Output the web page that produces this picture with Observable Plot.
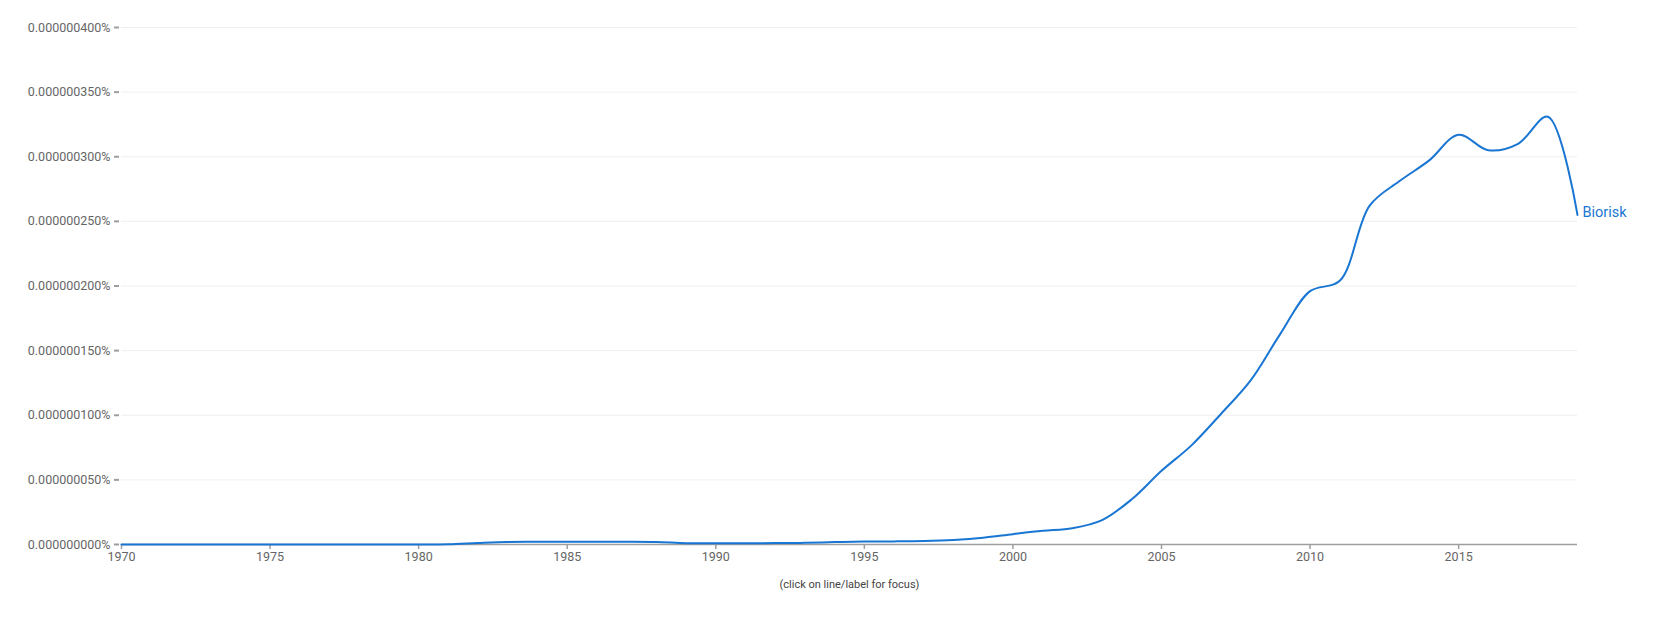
<!DOCTYPE html>
<html>
<head>
<meta charset="utf-8">
<script src="https://cdn.jsdelivr.net/npm/d3@7"></script>
<script src="https://cdn.jsdelivr.net/npm/@observablehq/plot@0.6"></script>
<style>
  html, body { margin: 0; padding: 0; background: #fff; }
  body { width: 1657px; height: 618px; overflow: hidden; font-family: Roboto, sans-serif; }
  #chart svg { display: block; }
  #caption { width: 1657px; height: 14px; line-height: 14px; font-size: 11px; color: #444;
             font-family: Roboto, sans-serif; position: relative; margin-top: 8px; }
  #caption span { position: absolute; left: 849.5px; transform: translateX(-50%); white-space: nowrap; }
</style>
</head>
<body>
<div id="chart"></div>
<div id="caption"><span>(click on line/label for focus)</span></div>
<script>
const seriesName = "Biorisk";
const years = d3.range(1970, 2020);
// values in percent
const biorisk = [
  0e-9, 0e-9, 0e-9, 0e-9, 0e-9, 0e-9, 0e-9, 0e-9, 0e-9, 0e-9,          // 1970-1979
  0e-9, 0.2e-9, 1.2e-9, 2.0e-9, 2.1e-9, 2.1e-9, 2.1e-9, 2.1e-9, 1.9e-9, 1.0e-9, // 1980-1989
  0.9e-9, 1.0e-9, 1.1e-9, 1.3e-9, 1.9e-9, 2.3e-9, 2.4e-9, 2.7e-9, 3.5e-9, 5.2e-9, // 1990-1999
  8.0e-9, 10.6e-9, 12.6e-9, 18.9e-9, 35e-9, 57e-9, 76.5e-9, 101e-9, 127e-9, 163e-9, // 2000-2009
  196e-9, 204e-9, 262e-9, 281e-9, 297e-9, 317e-9, 305e-9, 310e-9, 331e-9, 255e-9   // 2010-2019
];
const yTicks = [0, 50e-9, 100e-9, 150e-9, 200e-9, 250e-9, 300e-9, 350e-9, 400e-9];
const xTicks = [1970, 1975, 1980, 1985, 1990, 1995, 2000, 2005, 2010, 2015];

const data = years.map((y, i) => ({year: y, value: biorisk[i]}));
const last = data[data.length - 1];
const blue = "#1976d2";

const chart = Plot.plot({
  width: 1657,
  height: 570,
  marginTop: 27,
  marginBottom: 26,
  marginLeft: 121,
  marginRight: 80,
  style: {fontFamily: "Roboto, sans-serif", fontSize: "12.5px", background: "#fff"},
  x: {domain: [1970, 2019]},
  y: {domain: [0, 400e-9]},
  marks: [
    Plot.gridY(yTicks.slice(1), {stroke: "#efefef", strokeOpacity: 1, strokeWidth: 1}),
    Plot.axisY(yTicks, {
      tickSize: 5, tickPadding: 4, dx: -2,
      stroke: "#9e9e9e", strokeWidth: 2, fill: "#666",
      tickFormat: d => d.toFixed(9) + "%", label: null, fontSize: 12.5
    }),
    Plot.axisX(xTicks, {
      tickSize: 5, tickPadding: 3,
      stroke: "#9e9e9e", strokeWidth: 1.5, fill: "#666",
      tickFormat: d => String(d), label: null, fontSize: 12.5
    }),
    Plot.ruleY([0], {stroke: "#9e9e9e", strokeWidth: 1.5}),
    Plot.line(data, {x: "year", y: "value", stroke: blue, strokeWidth: 2, curve: "catmull-rom"}),
    Plot.text([last], {x: "year", y: "value", text: () => seriesName, textAnchor: "start",
      dx: 5, dy: -3, fill: blue, fontSize: 14.5})
  ]
});
document.getElementById("chart").appendChild(chart);
</script>
</body>
</html>
